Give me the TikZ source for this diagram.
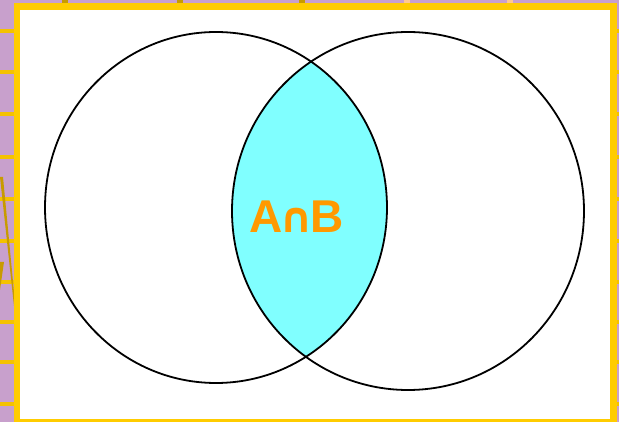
\documentclass[tikz,border=0pt]{standalone}
\usepackage{fontspec}
\setmainfont{Liberation Sans}
\newfontfamily\capfont{DejaVu Sans}
\definecolor{bgpurple}{HTML}{C8A0CC}
\definecolor{frameyellow}{HTML}{FFCC00}
\definecolor{darkyellow}{HTML}{C89B00}
\definecolor{lenscyan}{HTML}{80FFFF}
\definecolor{labelorange}{HTML}{FF9900}
\definecolor{peach}{HTML}{FFC890}
\tikzset{
  setline/.style={draw=black, line width=1.8pt},
  stripe/.style={fill=frameyellow!80!darkyellow},
  labeltext/.style={font=\fontsize{46}{46}\selectfont\bfseries, text=labelorange, inner sep=0pt, anchor=base}
}
\begin{document}
\begin{tikzpicture}[x=1pt,y=-1pt]
\useasboundingbox (0,0) rectangle (619,422);
% background
\fill[bgpurple] (0,0) rectangle (619,422);
\foreach \yy in {29,70,112,155,197,239,280,320,360,402}{
  \fill[stripe] (0,\yy) rectangle (14,\yy+4);
  \fill[stripe] (617,\yy) rectangle (619,\yy+4);
}
\fill[darkyellow] (0,177) -- (3,177) -- (14,292) -- (14,306) -- cycle;
\fill[darkyellow] (0,262) -- (4,262) -- (0,290) -- cycle;
\foreach \xx in {65,180,302}{\fill[darkyellow] (\xx-3,0) rectangle (\xx+3,3);}
\foreach \xx in {407,510}{\fill[peach] (\xx-3,0) rectangle (\xx+3,3);}
% frame
\fill[frameyellow] (14,3) rectangle (617,422);
\fill[white] (20,10) rectangle (610,419);
% lens
\begin{scope}
  \clip (216,207.5) ellipse [x radius=171pt, y radius=175.5pt];
  \fill[lenscyan] (408,211) ellipse [x radius=176pt, y radius=179pt];
\end{scope}
% circles
\draw[setline] (216,207.5) ellipse [x radius=171pt, y radius=175.5pt];
\draw[setline] (408,211) ellipse [x radius=176pt, y radius=179pt];
% label
\node[labeltext] (lbl) at (296.5,233) {A\kern-3pt{\capfont\fontsize{42}{42}\selectfont\bfseries ∩}\kern-4pt B};
\end{tikzpicture}
\end{document}
